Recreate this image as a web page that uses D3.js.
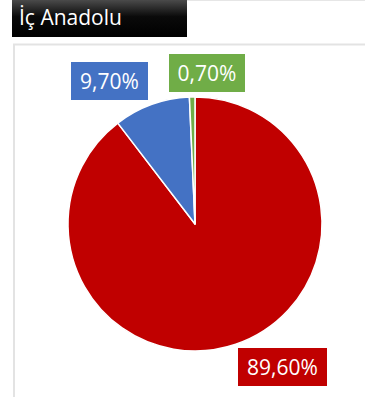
<!DOCTYPE html>
<html><head><meta charset="utf-8">
<script src="https://cdn.jsdelivr.net/npm/d3@7"></script>
<style>body{margin:0;background:#fff;}svg{display:block;}</style>
</head><body>
<script>
const title = "İç Anadolu";
const categories = ["A", "B", "C"];
const values = [89.6, 9.7, 0.7];
const labels = ["89,60%", "9,70%", "0,70%"];
const colors = ["#c00000", "#4472c4", "#70ad47"];

const W = 365, H = 397;
const svg = d3.select("body").append("svg").attr("width", W).attr("height", H);
const defs = svg.append("defs");
const g = defs.append("linearGradient").attr("id", "tg").attr("x1", 0).attr("y1", 0).attr("x2", 0).attr("y2", 1);
g.append("stop").attr("offset", "0%").attr("stop-color", "#4a4a4a");
g.append("stop").attr("offset", "45%").attr("stop-color", "#0a0a0a");
g.append("stop").attr("offset", "100%").attr("stop-color", "#000");

svg.append("line").attr("x1", 187).attr("x2", W).attr("y1", 0.5).attr("y2", 0.5).attr("stroke", "#e6e6e6");
svg.append("path").attr("d", `M14,${H} L14,44.5 L${W},44.5`).attr("fill", "none").attr("stroke", "#e3e3e3").attr("stroke-width", 2);

svg.append("rect").attr("x", 12).attr("y", 0).attr("width", 175).attr("height", 37).attr("fill", "url(#tg)");
svg.append("text").attr("x", 19).attr("y", 25).text(title)
  .attr("fill", "#fff").attr("font-family", "Open Sans, Noto Sans, sans-serif").attr("font-size", 21);

const cx = 195, cy = 224, r = 127;
const pie = d3.pie().sort(null).value(d => d)(values);
const arc = d3.arc().innerRadius(0).outerRadius(r);
svg.append("g").attr("transform", `translate(${cx},${cy})`)
  .selectAll("path").data(pie).join("path")
  .attr("d", arc).attr("fill", (d, i) => colors[i])
  .attr("stroke", "#fff").attr("stroke-width", 1.5).attr("stroke-linejoin", "round");

const boxes = [
  {x: 238, y: 348, w: 89, h: 38},
  {x: 71, y: 62, w: 77, h: 38},
  {x: 169, y: 54, w: 76, h: 38}
];
boxes.forEach((b, i) => {
  svg.append("rect").attr("x", b.x).attr("y", b.y).attr("width", b.w).attr("height", b.h).attr("fill", colors[i]);
  svg.append("text").attr("x", b.x + b.w / 2).attr("y", b.y + b.h / 2 + 8)
    .attr("text-anchor", "middle").attr("fill", "#fff")
    .attr("font-family", "Open Sans, Noto Sans, sans-serif").attr("font-size", 21)
    .text(labels[i]);
});
</script>
</body></html>
